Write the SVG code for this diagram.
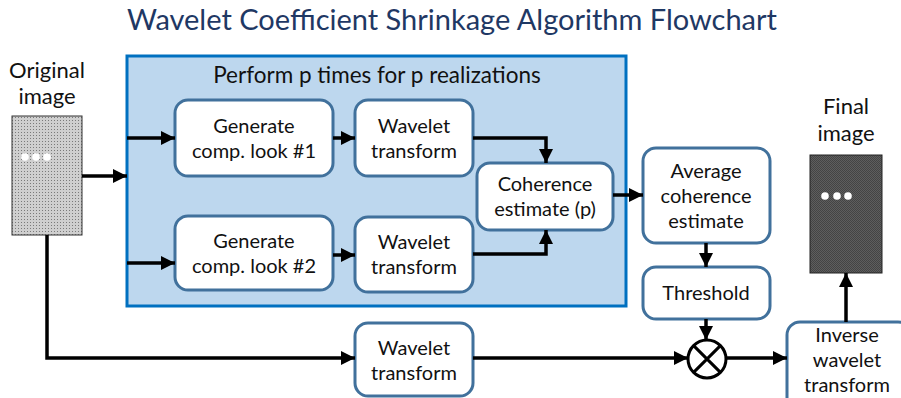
<svg xmlns="http://www.w3.org/2000/svg" width="901" height="398" viewBox="0 0 901 398">
<style>
.t{font-family:Lato,"Liberation Sans",sans-serif;fill:#111;text-anchor:middle}
.b{font-size:20px}
.node{fill:#fff;stroke:#41719C;stroke-width:3}
.c{fill:none;stroke:#000;stroke-width:3.5}
</style>
<defs>
<marker id="ah" viewBox="0 0 10 10" refX="10" refY="5" markerWidth="4" markerHeight="4.2" orient="auto" markerUnits="strokeWidth">
<path d="M0,0L10,5L0,10z" fill="#000"/>
</marker>
<pattern id="pl" width="3" height="3" patternUnits="userSpaceOnUse">
<rect width="3" height="3" fill="#cfcfcf"/>
<rect width="1" height="1" fill="#7a7a7a"/>
</pattern>
<pattern id="pd" width="2" height="2" patternUnits="userSpaceOnUse">
<rect width="2" height="2" fill="#5e5e5e"/>
<rect width="1" height="1" fill="#444"/>
<rect x="1" y="1" width="1" height="1" fill="#444"/>
</pattern>
</defs>
<rect width="901" height="398" fill="#fff"/>
<text x="452" y="30" class="t" style="font-size:29px;fill:#1F3864">Wavelet Coefficient Shrinkage Algorithm Flowchart</text>

<g id="original">
<text x="47" y="78" class="t" style="font-size:22px">Original</text>
<text x="47" y="104" class="t" style="font-size:22px">image</text>
<rect x="12" y="116" width="70" height="119" fill="url(#pl)" stroke="#333" stroke-width="1"/>
<circle cx="25" cy="157" r="3.8" fill="#fff"/>
<circle cx="36" cy="157" r="3.8" fill="#fff"/>
<circle cx="47" cy="157" r="3.8" fill="#fff"/>
</g>

<g id="loop">
<rect x="127" y="56" width="499" height="250" fill="#BDD7EE" stroke="#0070C0" stroke-width="3"/>
<text x="377" y="83" class="t" style="font-size:22.5px">Perform p times for p realizations</text>
</g>

<g id="gen1">
<rect x="175" y="100" width="158" height="76" rx="13" class="node"/>
<text x="254" y="133" class="t b">Generate</text>
<text x="254" y="158" class="t b">comp. look #1</text>
</g>
<g id="wav1">
<rect x="355" y="100" width="118" height="76" rx="13" class="node"/>
<text x="414" y="133" class="t b">Wavelet</text>
<text x="414" y="158" class="t b">transform</text>
</g>
<g id="gen2">
<rect x="175" y="216" width="158" height="74" rx="13" class="node"/>
<text x="254" y="248" class="t b">Generate</text>
<text x="254" y="273" class="t b">comp. look #2</text>
</g>
<g id="wav2">
<rect x="355" y="217" width="118" height="75" rx="13" class="node"/>
<text x="414" y="249" class="t b">Wavelet</text>
<text x="414" y="274" class="t b">transform</text>
</g>
<g id="coh">
<rect x="477" y="163" width="136" height="67" rx="13" class="node"/>
<text x="545" y="191" class="t b">Coherence</text>
<text x="545" y="216" class="t b">estimate (p)</text>
</g>
<g id="avg">
<rect x="643" y="148" width="127" height="95" rx="13" class="node"/>
<text x="706" y="178" class="t b">Average</text>
<text x="706" y="203" class="t b">coherence</text>
<text x="706" y="228" class="t b">estimate</text>
</g>
<g id="thr">
<rect x="643" y="267" width="127" height="52" rx="13" class="node"/>
<text x="706" y="300" class="t b">Threshold</text>
</g>
<g id="wav3">
<rect x="355" y="323" width="118" height="73" rx="13" class="node"/>
<text x="414" y="355" class="t b">Wavelet</text>
<text x="414" y="380" class="t b">transform</text>
</g>
<g id="mult">
<circle cx="707" cy="359" r="19" fill="#fff" stroke="#000" stroke-width="3"/>
<path d="M693.6,345.6L720.4,372.4M720.4,345.6L693.6,372.4" stroke="#000" stroke-width="3"/>
</g>
<g id="inv">
<rect x="787" y="322" width="124" height="90" rx="13" class="node"/>
<text x="847" y="342" class="t b">Inverse</text>
<text x="847" y="367" class="t b">wavelet</text>
<text x="847" y="392" class="t b">transform</text>
</g>
<g id="final">
<text x="846" y="114" class="t" style="font-size:22px">Final</text>
<text x="846" y="141" class="t" style="font-size:22px">image</text>
<rect x="810" y="155" width="72" height="118" fill="url(#pd)" stroke="#222" stroke-width="1"/>
<circle cx="825" cy="196" r="3.8" fill="#fff"/>
<circle cx="837" cy="196" r="3.8" fill="#fff"/>
<circle cx="848" cy="196" r="3.8" fill="#fff"/>
</g>

<g id="connectors">
<path d="M82,176H127" class="c" marker-end="url(#ah)"/>
<path d="M127,138H175" class="c" marker-end="url(#ah)"/>
<path d="M127,263H175" class="c" marker-end="url(#ah)"/>
<path d="M333,138H355" class="c" marker-end="url(#ah)"/>
<path d="M333,255H355" class="c" marker-end="url(#ah)"/>
<path d="M473,138H546V163" class="c" marker-end="url(#ah)"/>
<path d="M473,254H546V230" class="c" marker-end="url(#ah)"/>
<path d="M613,195H643" class="c" marker-end="url(#ah)"/>
<path d="M706,243V267" class="c" marker-end="url(#ah)"/>
<path d="M706,319V340" class="c" marker-end="url(#ah)"/>
<path d="M47,235V358H355" class="c" marker-end="url(#ah)"/>
<path d="M473,358H688" class="c" marker-end="url(#ah)"/>
<path d="M726,358H787" class="c" marker-end="url(#ah)"/>
<path d="M846,322V273" class="c" marker-end="url(#ah)"/>
</g>
</svg>
